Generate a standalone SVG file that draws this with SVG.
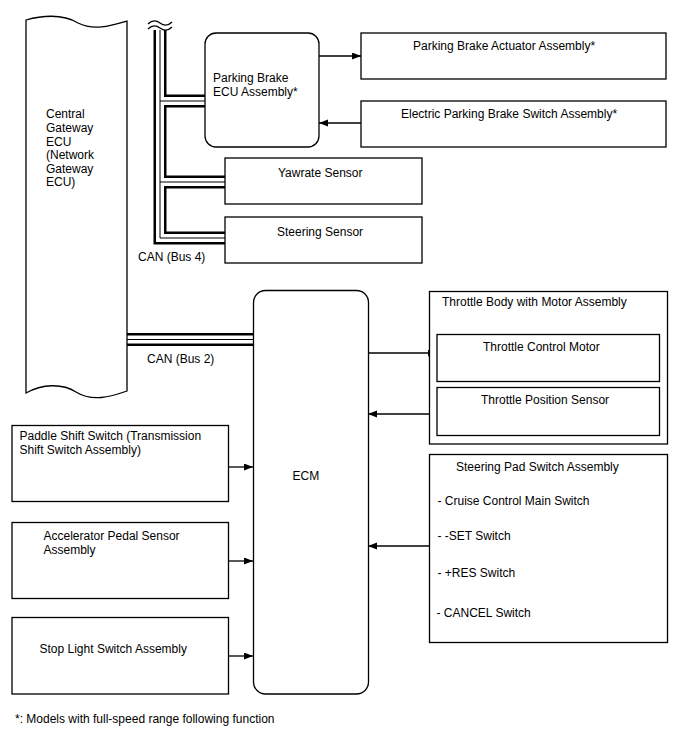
<svg xmlns="http://www.w3.org/2000/svg" width="688" height="755" viewBox="0 0 688 755">
<style>
text{font-family:"Liberation Sans",Arial,sans-serif;font-size:12px;fill:#000}
.box{fill:#fff;stroke:#000;stroke-width:1.3}
.ln{fill:none;stroke:#000;stroke-width:1.3}
.c1{fill:none;stroke:#000;stroke-width:13;stroke-linejoin:miter}
.c2{fill:none;stroke:#fff;stroke-width:8;stroke-linejoin:miter}
.c3{fill:none;stroke:#000;stroke-width:1;stroke-linejoin:miter}
</style>
<defs>
<marker id="ah" markerUnits="userSpaceOnUse" markerWidth="10" markerHeight="8" refX="9" refY="3.5" orient="auto">
<path d="M0,0 L9,3.5 L0,7 z" fill="#000"/>
</marker>
</defs>

<g id="connectors">
<!-- CAN Bus 4 -->
<g id="can-bus4">
<path class="c1" d="M160,30 V238 H225 M160,101 H205 M160,182 H225"/>
<path class="c2" d="M160,30 V238 H225 M160,101 H205 M160,182 H225"/>
<path class="c3" d="M160,30 V238 H225 M160,101 H205 M160,182 H225"/>
<path class="ln" d="M148,24 C152,20 156,20 160,23 C164,26 168,26 172,22 M148,29 C152,25 156,25 160,28 C164,31 168,31 172,27"/>
</g>
<!-- CAN Bus 2 -->
<g id="can-bus2">
<path class="c1" d="M127,339.5 H254"/>
<path class="c2" d="M127,339.5 H254"/>
<path class="c3" d="M127,339.5 H254"/>
</g>
<path class="ln" d="M319,56 H361" marker-end="url(#ah)"/>
<path class="ln" d="M361,123 H319" marker-end="url(#ah)"/>
<path class="ln" d="M368,353 H437" marker-end="url(#ah)"/>
<path class="ln" d="M437,414 H368" marker-end="url(#ah)"/>
<path class="ln" d="M429,546 H368" marker-end="url(#ah)"/>
<path class="ln" d="M229,467 H253" marker-end="url(#ah)"/>
<path class="ln" d="M229,561 H253" marker-end="url(#ah)"/>
<path class="ln" d="M229,656 H253" marker-end="url(#ah)"/>
</g>

<g id="gateway">
<path class="box" d="M26,20 C40,16 62,13 78,23 C94,31 110,26 127,21 V391 C110,397 92,402 76,392 C62,383 42,384 26,393 Z"/>
<text x="46" y="118">Central</text>
<text x="46" y="132">Gateway</text>
<text x="46" y="145.5">ECU</text>
<text x="46" y="159">(Network</text>
<text x="46" y="172.5">Gateway</text>
<text x="46" y="186">ECU)</text>
</g>

<g id="pb-ecu">
<rect class="box" x="205" y="33" width="114" height="114" rx="11"/>
<text x="213" y="82">Parking Brake</text>
<text x="213" y="96">ECU Assembly*</text>
</g>

<g id="pb-actuator">
<rect class="box" x="361" y="33" width="305" height="46"/>
<text x="413" y="50">Parking Brake Actuator Assembly*</text>
</g>

<g id="epb-switch">
<rect class="box" x="361" y="101" width="305" height="46"/>
<text x="401" y="118">Electric Parking Brake Switch Assembly*</text>
</g>

<g id="yawrate">
<rect class="box" x="225" y="158" width="197" height="46"/>
<text x="278" y="177">Yawrate Sensor</text>
</g>

<g id="steering-sensor">
<rect class="box" x="225" y="217" width="197" height="46"/>
<text x="277" y="236">Steering Sensor</text>
</g>

<text x="138" y="261">CAN (Bus 4)</text>
<text x="147" y="363">CAN (Bus 2)</text>

<g id="ecm">
<rect class="box" x="253.5" y="290.5" width="115" height="403.5" rx="12"/>
<text x="292.5" y="480">ECM</text>
</g>

<g id="throttle-body">
<rect class="box" x="429.5" y="291.5" width="238" height="152.5"/>
<text x="442" y="306">Throttle Body with Motor Assembly</text>
</g>
<g id="throttle-motor">
<rect class="box" x="437" y="334.5" width="222.5" height="47"/>
<text x="483" y="351">Throttle Control Motor</text>
</g>
<g id="throttle-sensor">
<rect class="box" x="437" y="387.5" width="222.5" height="48"/>
<text x="481" y="404">Throttle Position Sensor</text>
</g>

<g id="paddle-shift">
<rect class="box" x="12" y="425.5" width="216.5" height="76"/>
<text x="19.5" y="440">Paddle Shift Switch (Transmission</text>
<text x="19.5" y="454">Shift Switch Assembly)</text>
</g>

<g id="accel-pedal">
<rect class="box" x="12" y="522.5" width="216.5" height="76"/>
<text x="43.5" y="539.5">Accelerator Pedal Sensor</text>
<text x="43.5" y="553.5">Assembly</text>
</g>

<g id="stop-light">
<rect class="box" x="12" y="617.5" width="216.5" height="76.5"/>
<text x="39.5" y="652.5">Stop Light Switch Assembly</text>
</g>

<g id="steering-pad">
<rect class="box" x="429.5" y="454.5" width="238" height="188"/>
<text x="456" y="471">Steering Pad Switch Assembly</text>
<text x="437.5" y="505">- Cruise Control Main Switch</text>
<text x="437.5" y="539.5">- -SET Switch</text>
<text x="437.5" y="577">- +RES Switch</text>
<text x="436.5" y="617">- CANCEL Switch</text>
</g>

<text x="15" y="723">*: Models with full-speed range following function</text>
</svg>
